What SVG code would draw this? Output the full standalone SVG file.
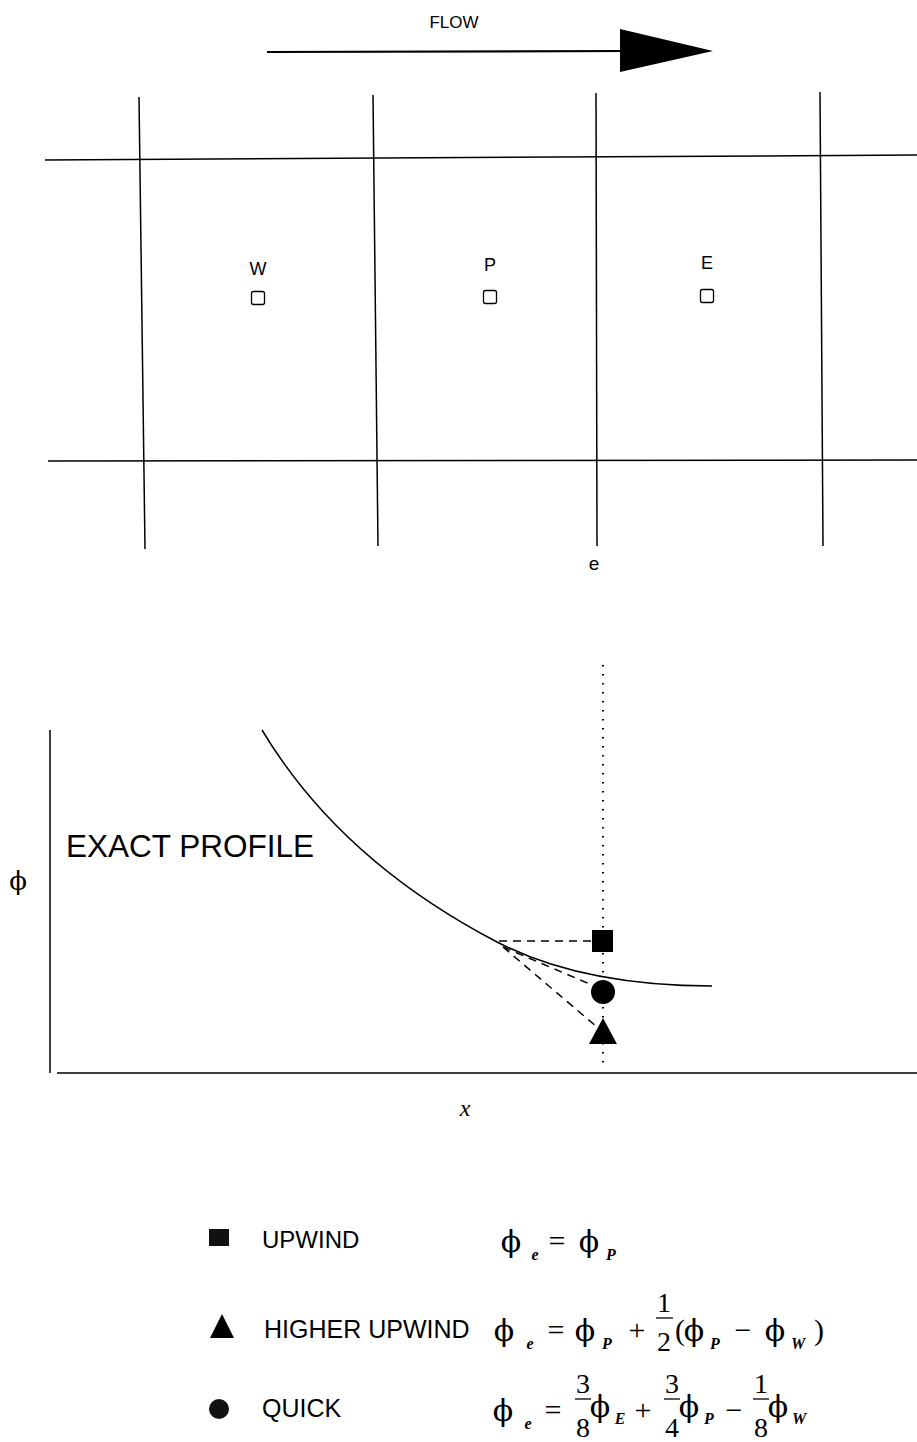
<svg xmlns="http://www.w3.org/2000/svg" width="917" height="1442" viewBox="0 0 917 1442">
<style>
.ln{stroke:#000;stroke-width:1.5;fill:none}
.lbl{font-family:"Liberation Sans",Arial,sans-serif;fill:#000}
.phi{font-family:"DejaVu Serif","Liberation Serif",serif;fill:#000;font-size:30px;text-anchor:middle}
.sub{font-family:"Liberation Serif",serif;font-style:italic;font-weight:bold;fill:#000;font-size:16px;text-anchor:middle}
.op{font-family:"Liberation Serif",serif;fill:#000;font-size:30px;text-anchor:middle}
.num{font-family:"Liberation Serif",serif;fill:#000;font-size:28px;text-anchor:middle}
.bar{stroke:#000;stroke-width:1.3}
.dash{stroke:#000;stroke-width:1.5;stroke-dasharray:8,6;fill:none}
</style>
<rect width="917" height="1442" fill="#fff"/>
<g id="flow">
<line class="ln" x1="267" y1="52" x2="625" y2="51" style="stroke-width:2.2"/>
<polygon points="620,29 713,51 620,72" fill="#000"/>
<text class="lbl" x="454" y="28" font-size="17" text-anchor="middle">FLOW</text>
</g>
<g id="grid">
<line class="ln" x1="139" y1="97" x2="145" y2="549"/>
<line class="ln" x1="373" y1="95" x2="378" y2="546"/>
<line class="ln" x1="596" y1="93" x2="597" y2="546"/>
<line class="ln" x1="820" y1="92" x2="823" y2="546"/>
<line class="ln" x1="45" y1="160" x2="917" y2="155"/>
<line class="ln" x1="48" y1="461" x2="917" y2="460"/>
<text class="lbl" x="594" y="570" font-size="19" text-anchor="middle">e</text>
</g>
<g id="W">
<text class="lbl" x="258" y="275" font-size="18" text-anchor="middle">W</text>
<rect x="251.5" y="291.5" width="13" height="13" rx="2" class="ln" style="stroke-width:1.3"/>
</g>
<g id="P">
<text class="lbl" x="490" y="271" font-size="18" text-anchor="middle">P</text>
<rect x="483.5" y="290.5" width="13" height="13" rx="2" class="ln" style="stroke-width:1.3"/>
</g>
<g id="E">
<text class="lbl" x="707" y="269" font-size="18" text-anchor="middle">E</text>
<rect x="700.5" y="289.5" width="13" height="13" rx="2" class="ln" style="stroke-width:1.3"/>
</g>
<g id="plot">
<line class="ln" x1="50" y1="730" x2="50" y2="1073"/>
<line class="ln" x1="57" y1="1073" x2="917" y2="1073"/>
<text class="phi" x="18" y="890" style="font-size:26px">ϕ</text>
<text x="465" y="1116" font-family="Liberation Serif,serif" font-style="italic" font-size="24" text-anchor="middle">x</text>
<text class="lbl" x="66" y="857" font-size="31.5">EXACT PROFILE</text>
<path class="ln" d="M262,730 Q340,860 497,942 Q582,986 712,986"/>
<line x1="603" y1="665" x2="603" y2="1070" stroke="#000" stroke-width="2" stroke-dasharray="1.5,7.5"/>
</g>
<g id="connectors">
<line class="dash" x1="499" y1="941" x2="592" y2="941"/>
<line class="dash" x1="503" y1="947" x2="592" y2="985"/>
<line class="dash" x1="503" y1="947" x2="597" y2="1027"/>
</g>
<g id="markers">
<rect x="592" y="930" width="21" height="22" fill="#000"/>
<circle cx="603" cy="992" r="12" fill="#000"/>
<polygon points="603,1018 617,1044 589,1044" fill="#000"/>
</g>
<g id="legend-upwind">
<rect x="209" y="1229" width="20" height="17" fill="#111"/>
<text class="lbl" x="262" y="1248" font-size="24">UPWIND</text>
<text class="phi" x="511" y="1252">ϕ</text>
<text class="sub" x="535" y="1260">e</text>
<text class="op" x="557" y="1251">=</text>
<text class="phi" x="589" y="1252">ϕ</text>
<text class="sub" x="611" y="1260">P</text>
</g>
<g id="legend-higher">
<polygon points="222,1314 234,1338 210,1338" fill="#000"/>
<text class="lbl" x="264" y="1338" font-size="25">HIGHER UPWIND</text>
<text class="phi" x="504" y="1341">ϕ</text>
<text class="sub" x="530" y="1349">e</text>
<text class="op" x="556" y="1340">=</text>
<text class="phi" x="585" y="1341">ϕ</text>
<text class="sub" x="607" y="1349">P</text>
<text class="op" x="637" y="1340">+</text>
<text class="num" x="664" y="1312">1</text>
<line class="bar" x1="656" y1="1318" x2="673" y2="1318"/>
<text class="num" x="664" y="1351">2</text>
<text class="op" x="680" y="1340">(</text>
<text class="phi" x="694" y="1341">ϕ</text>
<text class="sub" x="715" y="1349">P</text>
<text class="op" x="743" y="1340">−</text>
<text class="phi" x="775" y="1341">ϕ</text>
<text class="sub" x="798" y="1349">W</text>
<text class="op" x="819" y="1340">)</text>
</g>
<g id="legend-quick">
<circle cx="219" cy="1409" r="10" fill="#111"/>
<text class="lbl" x="262" y="1417" font-size="25">QUICK</text>
<text class="phi" x="503" y="1421">ϕ</text>
<text class="sub" x="528" y="1429">e</text>
<text class="op" x="553" y="1420">=</text>
<text class="num" x="583" y="1393">3</text>
<line class="bar" x1="575" y1="1399" x2="591" y2="1399"/>
<text class="num" x="583" y="1437">8</text>
<text class="phi" x="600" y="1417">ϕ</text>
<text class="sub" x="620" y="1424">E</text>
<text class="op" x="643" y="1420">+</text>
<text class="num" x="672" y="1393">3</text>
<line class="bar" x1="664" y1="1399" x2="680" y2="1399"/>
<text class="num" x="672" y="1437">4</text>
<text class="phi" x="689" y="1417">ϕ</text>
<text class="sub" x="709" y="1424">P</text>
<text class="op" x="734" y="1420">−</text>
<text class="num" x="761" y="1393">1</text>
<line class="bar" x1="753" y1="1399" x2="769" y2="1399"/>
<text class="num" x="761" y="1437">8</text>
<text class="phi" x="778" y="1417">ϕ</text>
<text class="sub" x="799" y="1424">W</text>
</g>
</svg>
